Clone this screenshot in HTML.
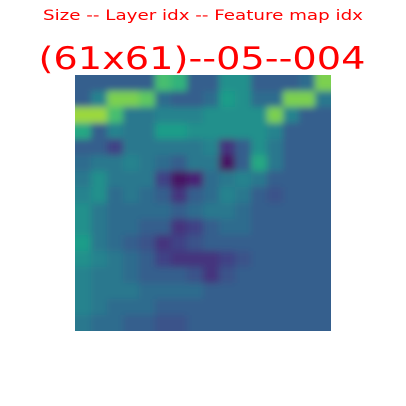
<!DOCTYPE html>
<html><head><meta charset="utf-8"><style>body{margin:0;background:#fff}svg{display:block}</style></head>
<body>
<svg width="406" height="406" xmlns="http://www.w3.org/2000/svg">
<defs>
<filter id="bl" x="-0.1" y="-0.1" width="1.2" height="1.2"><feGaussianBlur stdDeviation="3.5"/></filter>
<clipPath id="cp"><rect x="75" y="75" width="256" height="256"/></clipPath>
</defs>
<text x="203" y="20" text-anchor="middle" fill="red" font-family="DejaVu Sans, sans-serif" font-size="14" textLength="320" lengthAdjust="spacingAndGlyphs">Size -- Layer idx -- Feature map idx</text>
<text x="202" y="69" text-anchor="middle" fill="red" font-family="DejaVu Sans, sans-serif" font-size="31" textLength="327" lengthAdjust="spacingAndGlyphs">(61x61)--05--004</text>
<g clip-path="url(#cp)"><rect id="bg" x="75" y="75" width="256" height="256"/><g id="hm" filter="url(#bl)"></g></g>
</svg>
<script>
const rows=[
[0.3,0.3,0.3,0.3,0.3,0.7,0.65,0.3,0.3,0.5,0.5,0.3,0.3,0.3,0.35,0.8],
[0.3,0.45,0.8,0.8,0.75,0.35,0.3,0.3,0.35,0.55,0.5,0.35,0.35,0.8,0.8,0.4],
[0.85,0.85,0.7,0.4,0.4,0.45,0.45,0.45,0.5,0.5,0.5,0.5,0.8,0.45,0.3,0.3],
[0.6,0.3,0.45,0.4,0.4,0.55,0.55,0.5,0.5,0.5,0.5,0.5,0.45,0.3,0.3,0.3],
[0.3,0.3,0.2,0.4,0.4,0.4,0.4,0.4,0.45,0.15,0.3,0.5,0.4,0.3,0.3,0.3],
[0.35,0.4,0.4,0.45,0.4,0.35,0.3,0.4,0.4,0.05,0.3,0.6,0.4,0.3,0.3,0.3],
[0.4,0.5,0.4,0.4,0.4,0.2,0.05,0.1,0.35,0.4,0.45,0.4,0.3,0.3,0.3,0.3],
[0.45,0.5,0.35,0.4,0.35,0.3,0.15,0.3,0.35,0.45,0.4,0.3,0.25,0.3,0.3,0.3],
[0.5,0.4,0.35,0.35,0.35,0.35,0.3,0.35,0.4,0.4,0.35,0.3,0.3,0.3,0.3,0.3],
[0.5,0.4,0.35,0.35,0.3,0.3,0.15,0.2,0.3,0.35,0.35,0.3,0.3,0.3,0.3,0.3],
[0.55,0.4,0.35,0.3,0.25,0.15,0.2,0.25,0.3,0.3,0.3,0.3,0.3,0.3,0.3,0.3],
[0.5,0.45,0.4,0.35,0.3,0.2,0.15,0.15,0.15,0.2,0.25,0.3,0.3,0.3,0.3,0.3],
[0.45,0.4,0.4,0.35,0.3,0.3,0.3,0.25,0.15,0.25,0.3,0.3,0.3,0.3,0.3,0.3],
[0.45,0.4,0.4,0.4,0.35,0.35,0.35,0.35,0.3,0.3,0.3,0.3,0.3,0.3,0.3,0.3],
[0.45,0.4,0.35,0.35,0.35,0.3,0.3,0.3,0.3,0.3,0.3,0.3,0.3,0.3,0.3,0.3],
[0.4,0.35,0.35,0.3,0.3,0.25,0.25,0.3,0.3,0.3,0.3,0.3,0.3,0.3,0.3,0.3]
];
const vir=[[68,1,84],[72,40,120],[62,74,137],[49,104,142],[38,130,142],[31,158,137],[53,183,121],[109,205,89],[180,222,44],[253,231,37]];
function cmap(v){v=Math.max(0,Math.min(1,v))*(vir.length-1);const i=Math.min(Math.floor(v),vir.length-2),f=v-i;const c=vir[i].map((a,k)=>Math.round(a+(vir[i+1][k]-a)*f));return `rgb(${c})`;}
const x0=75,y0=75,size=256,n=rows.length,cs=size/n;
document.getElementById('bg').setAttribute('fill',cmap(0.3));
const g=document.getElementById('hm');
rows.forEach((r,ri)=>r.forEach((v,ci)=>{
const el=document.createElementNS('http://www.w3.org/2000/svg','rect');
// extend edge cells outward so blur doesn't fade at borders
const ex0=ci===0?-12:0, ey0=ri===0?-12:0;
const ex1=ci===n-1?12:0, ey1=ri===n-1?12:0;
el.setAttribute('x',x0+ci*cs+ex0);el.setAttribute('y',y0+ri*cs+ey0);
el.setAttribute('width',cs+0.5-ex0+ex1);el.setAttribute('height',cs+0.5-ey0+ey1);
el.setAttribute('fill',cmap(v));


g.appendChild(el);
}));
</script>
</body></html>
